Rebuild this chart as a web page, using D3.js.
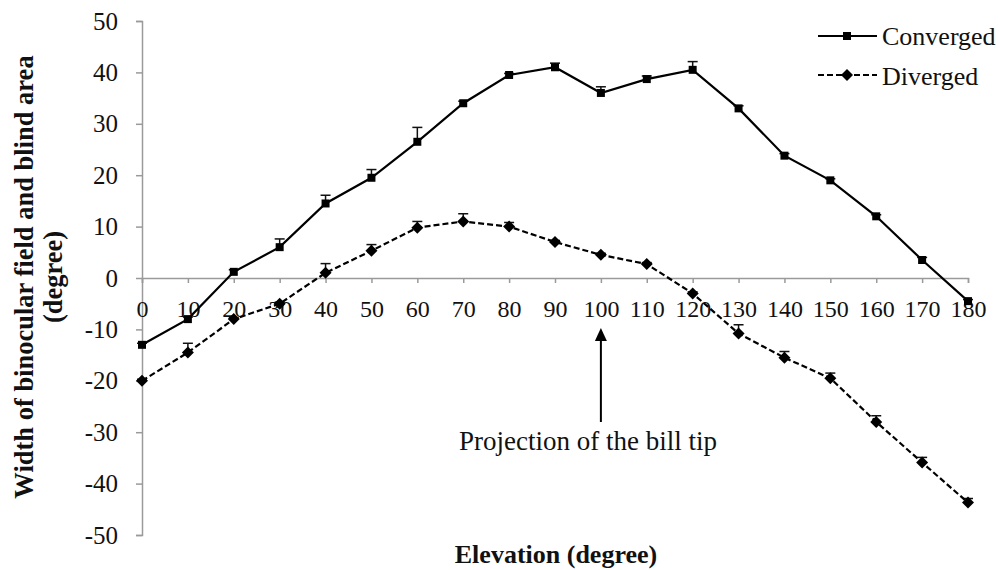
<!DOCTYPE html>
<html><head><meta charset="utf-8">
<script src="https://cdn.jsdelivr.net/npm/d3@7"></script>
<style>body{margin:0;background:#fff}svg{display:block}</style>
</head><body>
<svg id="c" width="1000" height="570"></svg>
<script>
const elevation = [0,10,20,30,40,50,60,70,80,90,100,110,120,130,140,150,160,170,180];
const converged = [-13,-8,1.2,6,14.5,19.5,26.5,34,39.5,41,36,38.7,40.5,33,23.8,19,12,3.5,-4.5];
const convergedErr = [0.3,0.4,0.4,1.6,1.6,1.6,2.8,0.4,0.3,0.8,1.2,0.6,1.6,0.5,0.4,0.3,0.3,0.5,0.3];
const diverged = [-20,-14.5,-8,-5,1,5.3,9.8,11,10,7,4.5,2.7,-3,-10.8,-15.5,-19.5,-28,-35.9,-43.7];
const divergedErr = [0.3,1.8,0.3,0.3,1.8,1.2,1.2,1.5,0.8,0.3,0.3,0.3,0.3,1.7,1.2,1.0,1.2,1.0,0.8];
const xTicks = [0,10,20,30,40,50,60,70,80,90,100,110,120,130,140,150,160,170,180];
const yTicks = [-50,-40,-30,-20,-10,0,10,20,30,40,50];
const seriesNames = ["Converged","Diverged"];

const svg = d3.select("#c");
const font = "'Liberation Serif','Times New Roman',serif";
const x = d3.scaleLinear().domain([0,180]).range([142,968]);
const y = d3.scaleLinear().domain([-50,50]).range([535,21]);
const axisColor = "#9a9a9a";
const fmt = d => String(d);

// Y axis
const ya = svg.append("g").attr("transform","translate(142,0)")
  .call(d3.axisLeft(y).tickValues(yTicks).tickSize(6).tickPadding(18).tickFormat(fmt));
ya.select(".domain").attr("stroke",axisColor).attr("stroke-width",1.5);
ya.selectAll(".tick line").attr("stroke",axisColor).attr("stroke-width",1.5);
ya.selectAll("text").attr("font-family",font).attr("font-size",25).attr("fill","#111");

// X axis at y=0
const xa = svg.append("g").attr("transform",`translate(0,${y(0)})`)
  .call(d3.axisBottom(x).tickValues(xTicks).tickSize(5).tickPadding(17).tickFormat(fmt));
xa.select(".domain").attr("stroke",axisColor).attr("stroke-width",1.5);
xa.selectAll(".tick line").attr("stroke",axisColor).attr("stroke-width",1.5);
xa.selectAll("text").attr("font-family",font).attr("font-size",24).attr("fill","#111");

const line = d3.line().x(d=>x(d[0])).y(d=>y(d[1]));
const cData = elevation.map((e,i)=>[e,converged[i],convergedErr[i]]);
const dData = elevation.map((e,i)=>[e,diverged[i],divergedErr[i]]);

function errBars(data){
  const g = svg.append("g").attr("stroke","#111").attr("stroke-width",1.5);
  data.forEach(d=>{
    const x0=x(d[0]), y0=y(d[1]), y1=y(d[1]+d[2]);
    g.append("line").attr("x1",x0).attr("x2",x0).attr("y1",y0).attr("y2",y1);
    g.append("line").attr("x1",x0-5).attr("x2",x0+5).attr("y1",y1).attr("y2",y1);
  });
}
errBars(cData); errBars(dData);

svg.append("path").datum(cData).attr("d",line).attr("fill","none").attr("stroke","#000").attr("stroke-width",2.2);
svg.append("path").datum(dData).attr("d",line).attr("fill","none").attr("stroke","#000").attr("stroke-width",2.2).attr("stroke-dasharray","6,3");

const sq = d3.symbol().type(d3.symbolSquare).size(64);
const di = "M0,-6L6,0L0,6L-6,0Z";
svg.append("g").selectAll("path").data(cData).join("path")
  .attr("d",sq).attr("transform",d=>`translate(${x(d[0])},${y(d[1])})`).attr("fill","#000");
svg.append("g").selectAll("path").data(dData).join("path")
  .attr("d",di).attr("transform",d=>`translate(${x(d[0])},${y(d[1])})`).attr("fill","#000");

// Legend
const lg = svg.append("g");
[[36,45,null,sq],[75,85,"6,3",di]].forEach((r,i)=>{
  lg.append("line").attr("x1",818).attr("x2",877).attr("y1",r[0]).attr("y2",r[0])
    .attr("stroke","#000").attr("stroke-width",2).attr("stroke-dasharray",r[2]);
  lg.append("path").attr("d",r[3]).attr("transform",`translate(847,${r[0]})`).attr("fill","#000");
  lg.append("text").attr("x",882).attr("y",r[1]).text(seriesNames[i])
    .attr("font-family",font).attr("font-size",26).attr("fill","#111");
});

// Annotation arrow
svg.append("line").attr("x1",x(100)).attr("x2",x(100)).attr("y1",422).attr("y2",338)
  .attr("stroke","#000").attr("stroke-width",2);
svg.append("path").attr("d",`M${x(100)},328 L${x(100)-6},341 L${x(100)+6},341 Z`).attr("fill","#000");
svg.append("text").attr("x",588).attr("y",450).attr("text-anchor","middle").text("Projection of the bill tip")
  .attr("font-family",font).attr("font-size",27).attr("fill","#111");

// Axis titles
svg.append("text").attr("x",556).attr("y",563).attr("text-anchor","middle").text("Elevation (degree)")
  .attr("font-family",font).attr("font-size",26).attr("font-weight","bold").attr("fill","#111");
const yt = svg.append("text").attr("transform","translate(33,277) rotate(-90)").attr("text-anchor","middle")
  .attr("font-family",font).attr("font-size",26.5).attr("font-weight","bold").attr("fill","#111");
yt.append("tspan").attr("x",0).attr("y",0).text("Width of binocular field and blind area");
yt.append("tspan").attr("x",0).attr("y",29).text("(degree)");
</script>
</body></html>
